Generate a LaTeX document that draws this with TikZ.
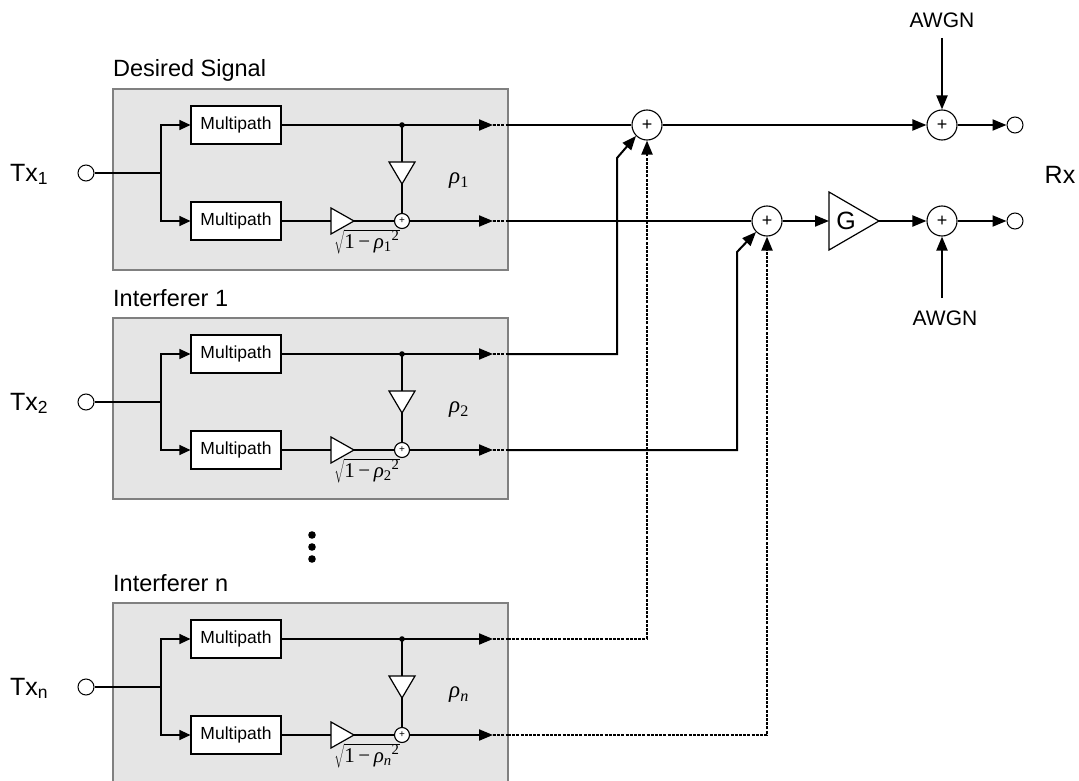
\RequirePackage{fix-cm}
\documentclass[tikz,border=0pt]{standalone}
\usepackage[no-math]{fontspec}
\setmainfont{Liberation Sans}
\newfontfamily\tnr{Liberation Serif}
\usetikzlibrary{arrows.meta,calc}
\begin{document}
\begin{tikzpicture}[x=1pt,y=-1pt,
  mp/.style={draw, line width=1.1pt, fill=white, minimum width=90pt, minimum height=38pt, inner sep=0pt, font=\fontsize{17.5}{19}\selectfont},
  chan/.style={draw=black!50, line width=1.3pt, fill=black!10},
  sig/.style={line width=2pt},
  thinl/.style={line width=1.2pt},
  tip/.style={-{Triangle[length=14pt,width=11pt]}},
  smalltip/.style={-{Triangle[length=11pt,width=10pt]}},
  dotl/.style={line width=2pt, dash pattern=on 3pt off 1.2pt},
  sum/.style={circle, draw, line width=1.1pt, fill=white, minimum size=30pt, inner sep=0pt, font=\fontsize{18}{18}\selectfont},
  ssum/.style={circle, draw, line width=1.1pt, fill=white, minimum size=15pt, inner sep=0pt, font=\fontsize{10}{10}\selectfont},
  port/.style={circle, draw, line width=1pt, fill=white, minimum size=16pt, inner sep=0pt},
  lbl/.style={font=\fontsize{23.5}{28}\selectfont, inner sep=0pt},
  txs/.style={font=\fontsize{25}{28}\selectfont, inner sep=0pt},
  awgn/.style={font=\fontsize{21}{24}\selectfont, inner sep=0pt},
  mth/.style={font=\fontsize{21}{24}\selectfont\tnr, inner sep=0pt},
  rhol/.style={font=\fontsize{23}{26}\selectfont\tnr, inner sep=0pt}
]
\useasboundingbox (0,0) rectangle (1079,781);

\foreach \i/\dy/\ttl/\tsub/\sub in {1/0/Desired Signal/1/{\upshape 1}, 2/229/Interferer 1/2/{\upshape 2}, 3/514/Interferer n/n/{\itshape n}} {
  \draw[chan] (113,\dy+89) rectangle (508,\dy+270);
  \node[lbl, anchor=base west] (title\i) at (113,\dy+77) {\ttl};
  \node[port] (tx\i) at (86,\dy+173) {};
  \node[txs, anchor=base west] (txl\i) at (10,\dy+181) {Tx\textsubscript{\tsub}};
  \coordinate (j\i) at (161,\dy+173);
  \node[mp] (mpa\i) at (236,\dy+125) {Multipath};
  \node[mp] (mpb\i) at (236,\dy+221) {Multipath};
  \draw[thinl] (tx\i) -- (j\i);
  \draw[thinl, smalltip] (j\i) |- (mpa\i.west);
  \draw[thinl, smalltip] (j\i) |- (mpb\i.west);
  \coordinate (dot\i) at (402,\dy+125);
  \node[ssum] (ss\i) at (402,\dy+221) {+};
  \coordinate (oa\i) at (493,\dy+125);
  \coordinate (ob\i) at (493,\dy+221);
  \coordinate (ea\i) at (508,\dy+125);
  \coordinate (eb\i) at (508,\dy+221);
  \draw[sig, tip] (mpa\i.east) -- (oa\i);
  \fill (dot\i) circle (2.8);
  \coordinate (dtT\i) at (402,\dy+162);
  \coordinate (dtA\i) at (402,\dy+184);
  \draw[sig] (dot\i) -- (dtT\i);
  \draw[thinl, fill=white] (389,\dy+162) -- (415,\dy+162) -- (dtA\i) -- cycle;
  \draw[sig] (dtA\i) -- (ss\i.north);
  \coordinate (ltB\i) at (331,\dy+221);
  \coordinate (ltA\i) at (354,\dy+221);
  \draw[sig] (mpb\i.east) -- (ltB\i);
  \draw[thinl, fill=white] (331,\dy+208) -- (331,\dy+234) -- (ltA\i) -- cycle;
  \draw[sig] (ltA\i) -- (ss\i.west);
  \draw[sig, tip] (ss\i.east) -- (ob\i);
  \draw[dotl] (oa\i) -- (ea\i);
  \draw[dotl] (ob\i) -- (eb\i);
  \node[rhol] (rho\i) at (459,\dy+181) {{\itshape ρ}\textsubscript{\sub}};
  \node[mth, anchor=north] (sq\i) at (367,\dy+229) {$\sqrt{\hbox{1\,−\,{\itshape ρ}\textsubscript{\sub}\textsuperscript{2}}}$};
}

% vertical dots
\fill (312,535) circle (3.8);
\fill (312,547) circle (3.8);
\fill (312,559) circle (3.8);

% summing nodes and outputs
\node[sum] (s1) at (647,125) {+};
\node[sum] (s2) at (767,221) {+};
\node[sum] (r1) at (942,125) {+};
\node[sum] (r2) at (942,221) {+};
\node[port] (o1) at (1015,125) {};
\node[port] (o2) at (1015,221) {};

% gain G
\draw[thinl, fill=white] (829,192) -- (829,250) -- (879,221) -- cycle;
\node[font=\fontsize{25}{28}\selectfont, inner sep=0pt] (g) at (846,221) {G};
\coordinate (gin) at (829,221);
\coordinate (gout) at (879,221);

\draw[sig] (ea1) -- (s1);
\draw[sig, tip] (s1) -- (r1);
\draw[sig, tip] (r1) -- (o1);
\draw[sig] (eb1) -- (s2);
\draw[sig, tip] (s2) -- (gin);
\draw[sig, tip] (gout) -- (r2);
\draw[sig, tip] (r2) -- (o2);

\node[awgn] (aw1) at (942,20) {AWGN};
\coordinate (a1s) at (942,38);
\draw[sig, tip] (a1s) -- (r1);
\node[awgn] (aw2) at (945,318) {AWGN};
\coordinate (a2s) at (942,298);
\draw[sig, tip] (a2s) -- (r2);

\node[txs] (rx) at (1060,175) {Rx};

% interferer 1 connections
\coordinate (k1) at (617,354);
\coordinate (k2) at (617,158);
\draw[sig, tip] (ea2) -- (k1) -- (k2) -- (s1.south west);
\coordinate (k3) at (737,450);
\coordinate (k4) at (737,252);
\draw[sig, tip] (eb2) -- (k3) -- (k4) -- (s2.south west);

% interferer n connections
\coordinate (k5) at (647,639);
\draw[dotl, tip] (ea3) -- (k5) -- (s1.south);
\coordinate (k6) at (767,735);
\draw[dotl, tip] (eb3) -- (k6) -- (s2.south);
\end{tikzpicture}
\end{document}
